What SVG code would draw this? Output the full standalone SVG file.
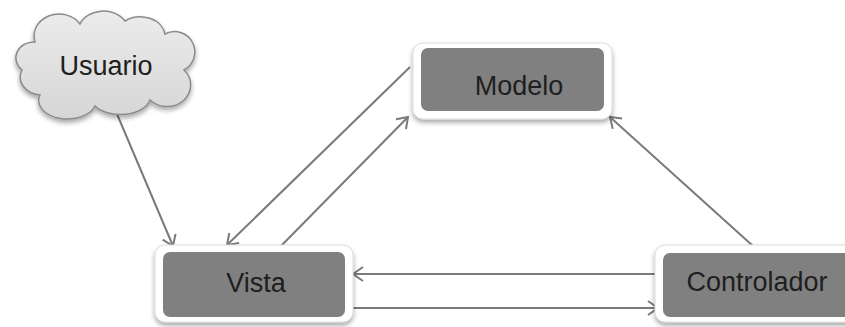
<svg xmlns="http://www.w3.org/2000/svg" width="845" height="327" viewBox="0 0 845 327">
<defs>
<style>
.frame{fill:#ffffff;stroke:#dcdcdc;stroke-width:1}
.box{fill:#808080}
.lbl{font-family:"Liberation Sans",Arial,sans-serif;font-size:27px;fill:#1e1e1e;text-anchor:middle}
.conn{stroke:#7a7a7a;stroke-width:2;fill:none;marker-end:url(#arr)}
</style>
<marker id="arr" markerWidth="16" markerHeight="16" refX="12" refY="8" orient="auto" markerUnits="userSpaceOnUse">
<path d="M2,1 L12,8 L2,15" fill="none" stroke="#7a7a7a" stroke-width="2"/>
</marker>
<filter id="sh" x="-10%" y="-20%" width="120%" height="150%">
<feGaussianBlur in="SourceAlpha" stdDeviation="2.5"/>
<feOffset dx="0" dy="3" result="b"/>
<feComponentTransfer><feFuncA type="linear" slope="0.35"/></feComponentTransfer>
<feMerge><feMergeNode/><feMergeNode in="SourceGraphic"/></feMerge>
</filter>
<linearGradient id="cg" x1="0" y1="0" x2="0" y2="1">
<stop offset="0" stop-color="#ececec"/>
<stop offset="1" stop-color="#d6d6d6"/>
</linearGradient>
</defs>
<rect width="845" height="327" fill="#ffffff"/>
<g id="connectors">
<line class="conn" x1="114" y1="107" x2="173" y2="246"/>
<line class="conn" x1="410" y1="67" x2="227" y2="245"/>
<line class="conn" x1="280" y1="247" x2="408" y2="117"/>
<line class="conn" x1="753" y1="246" x2="610" y2="117"/>
<line class="conn" x1="658" y1="274" x2="353" y2="274"/>
<line class="conn" x1="353" y1="308" x2="658" y2="308"/>
</g>
<g id="usuario">
<path filter="url(#sh)" d="M40,95 A22,18 0 0 1 22,70 A18,16 0 0 1 35,42 A25,22 0 0 1 80,24 A25,20 0 0 1 125,21 A25,20 0 0 1 165,34 A20,20 0 0 1 184,70 A22,20 0 0 1 150,100 A30,18 0 0 1 95,106 A28,18 0 0 1 40,95 Z" fill="url(#cg)" stroke="#8a8a8a" stroke-width="1.5"/>
<text class="lbl" x="106" y="75">Usuario</text>
</g>
<g id="modelo">
<rect class="frame" filter="url(#sh)" x="413" y="43" width="199" height="76" rx="10"/>
<rect class="box" x="421" y="48" width="183" height="63" rx="7"/>
<text class="lbl" x="519" y="95">Modelo</text>
</g>
<g id="vista">
<rect class="frame" filter="url(#sh)" x="155" y="245" width="198" height="77" rx="10"/>
<rect class="box" x="163" y="252" width="182" height="65" rx="7"/>
<text class="lbl" x="256" y="292">Vista</text>
</g>
<g id="controlador">
<rect class="frame" filter="url(#sh)" x="655" y="245" width="205" height="77" rx="10"/>
<rect class="box" x="663" y="253" width="192" height="64" rx="7"/>
<text class="lbl" x="757" y="291">Controlador</text>
</g>
</svg>
